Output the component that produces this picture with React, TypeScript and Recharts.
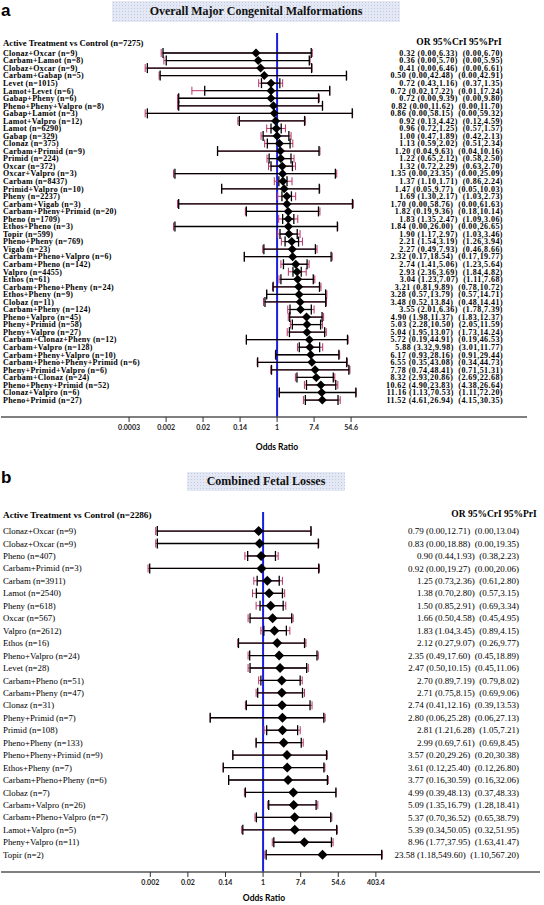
import React from "react";
import { ScatterChart, Scatter, XAxis, YAxis, ErrorBar, ReferenceLine } from "recharts";

// ---- panel a: Overall Major Congenital Malformations ----
const labelsA = [
  "Clonaz+Oxcar (n=9)", "Carbam+Lamot (n=8)", "Clobaz+Oxcar (n=9)", "Carbam+Gabap (n=5)", "Levet (n=1015)",
  "Lamot+Levet (n=6)", "Gabap+Pheny (n=6)", "Pheno+Pheny+Valpro (n=8)", "Gabap+Lamot (n=3)", "Lamot+Valpro (n=12)",
  "Lamot (n=6290)", "Gabap (n=329)", "Clonaz (n=375)", "Carbam+Primid (n=9)", "Primid (n=224)",
  "Oxcar (n=372)", "Oxcar+Valpro (n=3)", "Carbam (n=8437)", "Primid+Valpro (n=10)", "Pheny (n=2237)",
  "Carbam+Vigab (n=3)", "Carbam+Pheny+Primid (n=20)", "Pheno (n=1709)", "Ethos+Pheno (n=3)", "Topir (n=599)",
  "Pheno+Pheny (n=769)", "Vigab (n=23)", "Carbam+Pheno+Valpro (n=6)", "Carbam+Pheno (n=142)", "Valpro (n=4455)",
  "Ethos (n=61)", "Carbam+Pheno+Pheny (n=24)", "Ethos+Pheny (n=9)", "Clobaz (n=11)", "Carbam+Pheny (n=124)",
  "Pheno+Valpro (n=45)", "Pheny+Primid (n=58)", "Pheny+Valpro (n=27)", "Carbam+Clonaz+Pheny (n=12)", "Carbam+Valpro (n=128)",
  "Carbam+Pheny+Valpro (n=10)", "Carbam+Pheno+Pheny+Primid (n=6)", "Pheny+Primid+Valpro (n=6)", "Carbam+Clonaz (n=24)", "Pheno+Pheny+Primid (n=52)",
  "Clonaz+Valpro (n=6)", "Pheno+Primid (n=27)",
];
const orA = [0.32, 0.36, 0.41, 0.5, 0.72, 0.72, 0.72, 0.82, 0.86, 0.92, 0.96, 1.0, 1.13, 1.2, 1.22, 1.32, 1.35, 1.37, 1.47, 1.69, 1.7, 1.82, 1.83, 1.84, 1.9, 2.21, 2.27, 2.32, 2.74, 2.93, 3.04, 3.21, 3.28, 3.48, 3.55, 4.9, 5.03, 5.04, 5.72, 5.88, 6.17, 6.55, 7.78, 8.32, 10.62, 11.16, 11.52];
const criLoA = [0.0021, 0.0025, 0.0009, 0.0018, 0.43, 0.02, 0.0049, 0.0049, 0.0009, 0.13, 0.72, 0.47, 0.59, 0.04, 0.65, 0.72, 0.004, 1.1, 0.05, 1.3, 0.0049, 0.19, 1.35, 0.004, 1.17, 1.54, 0.49, 0.17, 1.41, 2.36, 1.23, 0.81, 0.57, 0.52, 2.01, 1.98, 2.28, 1.95, 0.19, 3.32, 0.93, 0.35, 0.74, 2.93, 4.9, 1.13, 4.61];
const criHiA = [6.33, 5.7, 6.46, 42.48, 1.16, 17.22, 9.39, 11.62, 58.15, 4.42, 1.25, 1.89, 2.02, 9.63, 2.12, 2.29, 23.35, 1.71, 9.77, 2.17, 58.76, 9.36, 2.47, 26.0, 2.97, 3.19, 7.93, 18.54, 5.06, 3.69, 7.07, 9.89, 13.79, 13.84, 6.36, 11.37, 10.5, 13.07, 44.91, 9.98, 28.16, 43.08, 48.41, 20.86, 23.83, 70.53, 26.94];
const priLoA = [0.0019, 0.0022, 0.0008, 0.0017, 0.37, 0.01, 0.0046, 0.0046, 0.0008, 0.12, 0.57, 0.42, 0.51, 0.04, 0.58, 0.63, 0.0037, 0.86, 0.05, 1.03, 0.0046, 0.18, 1.09, 0.0037, 1.03, 1.26, 0.46, 0.17, 1.23, 1.84, 1.11, 0.78, 0.57, 0.48, 1.78, 1.83, 2.05, 1.73, 0.19, 3.01, 0.91, 0.34, 0.71, 2.69, 4.38, 1.11, 4.15];
const priHiA = [6.7, 5.95, 6.61, 42.91, 1.35, 17.24, 9.8, 11.7, 59.32, 4.59, 1.57, 2.13, 2.34, 10.16, 2.5, 2.7, 25.09, 2.24, 10.03, 2.73, 61.63, 10.14, 3.06, 26.65, 3.46, 3.94, 8.66, 19.77, 5.64, 4.82, 7.68, 10.72, 14.71, 14.41, 7.39, 12.37, 11.59, 14.24, 46.53, 11.77, 29.44, 44.73, 51.31, 22.68, 26.64, 72.2, 30.35];
const ticksA = [0.000335, 0.00248, 0.0183, 0.1353, 1, 7.389, 54.6];
const tickLabelsA = ["0.0003", "0.002", "0.02", "0.14", "1", "7.4", "54.6"];

// ---- panel b: Combined Fetal Losses ----
const labelsB = [
  "Clonaz+Oxcar (n=9)", "Clobaz+Oxcar (n=9)", "Pheno (n=407)", "Carbam+Primid (n=3)", "Carbam (n=3911)",
  "Lamot (n=2540)", "Pheny (n=618)", "Oxcar (n=567)", "Valpro (n=2612)", "Ethos (n=16)",
  "Pheno+Valpro (n=24)", "Levet (n=28)", "Carbam+Pheno (n=51)", "Carbam+Pheny (n=47)", "Clonaz (n=31)",
  "Pheny+Primid (n=7)", "Primid (n=108)", "Pheno+Pheny (n=133)", "Pheno+Pheny+Primid (n=9)", "Ethos+Pheny (n=7)",
  "Carbam+Pheno+Pheny (n=6)", "Clobaz (n=7)", "Carbam+Valpro (n=26)", "Carbam+Pheno+Valpro (n=7)", "Lamot+Valpro (n=5)",
  "Pheny+Valpro (n=11)", "Topir (n=2)",
];
const orB = [0.79, 0.83, 0.9, 0.92, 1.25, 1.38, 1.5, 1.66, 1.83, 2.12, 2.35, 2.47, 2.7, 2.71, 2.74, 2.8, 2.81, 2.99, 3.57, 3.61, 3.77, 4.99, 5.09, 5.37, 5.39, 8.96, 23.58];
const criLoB = [0.0036, 0.0036, 0.44, 0.0024, 0.73, 0.7, 0.85, 0.5, 1.04, 0.27, 0.49, 0.5, 0.89, 0.75, 0.41, 0.06, 1.21, 0.69, 0.2, 0.12, 0.16, 0.39, 1.35, 0.7, 0.34, 1.77, 1.18];
const criHiB = [12.71, 18.88, 1.93, 19.27, 2.36, 2.8, 2.91, 4.58, 3.45, 9.07, 17.6, 10.15, 7.19, 8.15, 12.16, 25.28, 6.28, 7.61, 29.26, 25.4, 30.59, 48.13, 16.79, 36.52, 50.05, 37.95, 549.6];
const priLoB = [0.0033, 0.0033, 0.38, 0.0022, 0.61, 0.57, 0.69, 0.45, 0.89, 0.26, 0.45, 0.45, 0.79, 0.69, 0.39, 0.06, 1.05, 0.69, 0.2, 0.12, 0.16, 0.37, 1.28, 0.65, 0.32, 1.63, 1.1];
const priHiB = [13.04, 19.35, 2.23, 20.06, 2.8, 3.15, 3.34, 4.95, 4.15, 9.77, 18.89, 11.06, 8.02, 9.06, 13.53, 27.13, 7.21, 8.45, 30.38, 26.8, 32.06, 48.33, 18.41, 38.79, 51.95, 41.47, 567.2];
const ticksB = [0.00248, 0.0183, 0.1353, 1, 7.389, 54.6, 403.4];
const tickLabelsB = ["0.002", "0.02", "0.14", "1", "7.4", "54.6", "403.4"];

const SERIF = "'Liberation Serif', 'Times New Roman', serif";
const BLUE = "#1a1ee0";
const PINK = "#b8336a";

const fmt = (v: number) => v.toFixed(2);

function Diamond(props: any) {
  const { cx, cy, r } = props;
  if (cx == null || cy == null) return null;
  return <path d={`M${cx},${cy - r} L${cx + r},${cy} L${cx},${cy + r} L${cx - r},${cy} Z`} fill="#000" />;
}

function ForestPlot(props: any) {
  const { labels, or, criLo, criHi, priLo, priHi, ticks, tickLabels } = props;
  const rows = or.map((v: number, i: number) => ({
    y: i,
    or: v,
    cri: [v - criLo[i], criHi[i] - v],
    pri: [v - priLo[i], priHi[i] - v],
  }));

  // one tick per row: study label on the left, OR / CrI / PrI text on the right
  const RowTick = (tp: any) => {
    const i = tp.payload.value;
    const txt = `${fmt(or[i])} (${fmt(criLo[i])},${fmt(criHi[i])})  (${fmt(priLo[i])},${fmt(priHi[i])})`;
    return (
      <g>
        <text x={3} y={tp.y} dy="0.35em" textAnchor="start" fontFamily={SERIF} fontSize={props.labelSize} letterSpacing={props.labelSpacing} fontWeight={props.labelWeight} fill="#000">
          {labels[i]}
        </text>
        <text x={props.valueRight} y={tp.y} dy="0.35em" textAnchor="end" xmlSpace="preserve" style={{ whiteSpace: "pre" }} fontFamily={SERIF} fontSize={props.valueSize} letterSpacing={props.valueSpacing} fontWeight={props.labelWeight} fill="#000">
          {txt}
        </text>
      </g>
    );
  };

  return (
    <ScatterChart width={props.width} height={props.height} margin={props.margin}>
      <XAxis
        type="number"
        dataKey="or"
        scale="log"
        domain={props.xDomain}
        allowDataOverflow
        ticks={ticks}
        interval={0}
        tickFormatter={(v: number) => tickLabels[ticks.indexOf(v)] ?? ""}
        height={30}
        axisLine={{ stroke: "#555", strokeWidth: 1.5 }}
        tickLine={{ stroke: "#333" }}
        tickSize={5}
        tickMargin={3}
        tick={{ fontSize: 7, fontFamily: "Lato", fontWeight: 700, fill: "#222" }}
      />
      <YAxis
        type="number"
        dataKey="y"
        domain={props.yDomain}
        reversed
        allowDataOverflow
        width={1}
        ticks={rows.map((r: any) => r.y)}
        interval={0}
        axisLine={false}
        tickLine={false}
        tick={RowTick}
      />
      <ReferenceLine x={1} stroke={BLUE} strokeWidth={2} />
      <Scatter data={rows} isAnimationActive={false} shape={(sp: any) => <Diamond {...sp} r={props.diamond} />}>
        <ErrorBar dataKey="pri" direction="x" width={4} stroke={PINK} strokeWidth={1} isAnimationActive={false} />
        <ErrorBar dataKey="cri" direction="x" width={5} stroke="#000" strokeWidth={1.3} isAnimationActive={false} />
      </Scatter>
    </ScatterChart>
  );
}

const titleBox: React.CSSProperties = {
  position: "absolute",
  background: "radial-gradient(#c3cbe0 0.6px, transparent 0.8px) 0 0 / 3px 3px, #e3e8f4",
  fontFamily: SERIF,
  fontWeight: 700,
  fontSize: 12,
  color: "#111",
  display: "flex",
  alignItems: "center",
  justifyContent: "center",
};

const abs = (x: number, y: number, extra: React.CSSProperties = {}): React.CSSProperties => ({
  position: "absolute",
  left: x,
  top: y,
  whiteSpace: "pre",
  lineHeight: 1,
  ...extra,
});

export default function App() {
  return (
    <div style={{ position: "absolute", left: 0, top: 0, width: 544, height: 905, background: "#fff", overflow: "hidden" }}>
      {/* panel a */}
      <div style={abs(1, 2, { fontFamily: "'Liberation Sans', Arial, sans-serif", fontWeight: 700, fontSize: 17 })}>a</div>
      <div style={{ ...titleBox, left: 112, top: 1, width: 288, height: 21 }}>Overall Major Congenital Malformations</div>
      <div style={abs(3, 39, { fontFamily: SERIF, fontWeight: 700, fontSize: 8.7 })}>Active Treatment vs Control (n=7275)</div>
      <div style={abs(459, 38, { fontFamily: SERIF, fontWeight: 700, fontSize: 9.5, transform: "translateX(-50%)" })}>OR 95%CrI 95%PrI</div>
      <div style={{ position: "absolute", left: 0, top: 0 }}>
        <ForestPlot
          labels={labelsA} or={orA} criLo={criLoA} criHi={criHiA} priLo={priLoA} priHi={priHiA}
          ticks={ticksA} tickLabels={tickLabelsA}
          width={544} height={460}
          margin={{ top: 33, right: 17, bottom: 13, left: 0 }}
          xDomain={[3.3e-7, 7.36e5]}
          yDomain={[-2.65, 48.25]}
          valueRight={503}
          labelSize={8}
          labelSpacing={0.25}
          valueSize={8}
          valueSpacing={0.45}
          labelWeight={700}
          diamond={4.5}
        />
      </div>
      <div style={abs(277, 443, { fontFamily: "Lato", fontWeight: 700, fontSize: 8.5, transform: "translateX(-50%)" })}>Odds Ratio</div>

      {/* panel b */}
      <div style={abs(1, 469, { fontFamily: "'Liberation Sans', Arial, sans-serif", fontWeight: 700, fontSize: 17 })}>b</div>
      <div style={{ ...titleBox, left: 187, top: 472, width: 158, height: 19 }}>Combined Fetal Losses</div>
      <div style={abs(3, 511, { fontFamily: SERIF, fontWeight: 700, fontSize: 9.2 })}>Active Treatment vs Control (n=2286)</div>
      <div style={abs(494, 510, { fontFamily: SERIF, fontWeight: 700, fontSize: 9.5, transform: "translateX(-50%)" })}>OR 95%CrI 95%PrI</div>
      <div style={{ position: "absolute", left: 0, top: 460 }}>
        <ForestPlot
          labels={labelsB} or={orB} criLo={criLoB} criHi={criHiB} priLo={priLoB} priHi={priHiB}
          ticks={ticksB} tickLabels={tickLabelsB}
          width={544} height={445}
          margin={{ top: 52, right: 4, bottom: 3, left: 0 }}
          xDomain={[8.8e-7, 2.5e6]}
          yDomain={[-1.53, 27.39]}
          valueRight={519}
          labelSize={8.8}
          labelSpacing={0}
          valueSize={9}
          valueSpacing={0}
          labelWeight={400}
          diamond={5}
        />
      </div>
      <div style={abs(264, 894, { fontFamily: "Lato", fontWeight: 700, fontSize: 8.5, transform: "translateX(-50%)" })}>Odds Ratio</div>
    </div>
  );
}
